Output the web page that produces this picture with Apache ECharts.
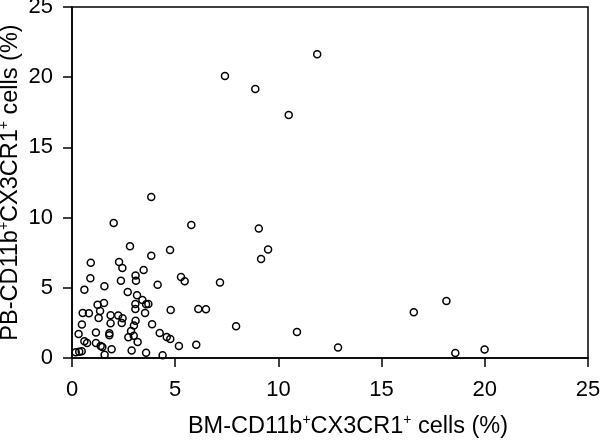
<!DOCTYPE html>
<html><head><meta charset="utf-8">
<script src="https://cdn.jsdelivr.net/npm/echarts@6/dist/echarts.min.js"></script>
<style>html,body{margin:0;padding:0;background:#fff}#c{width:600px;height:447px}</style>
</head><body><div id="c"></div>
<script>
// BM-CD11b+CX3CR1+ cells (%) — x values
const bmValues = [11.88,7.41,8.88,10.50,3.84,5.78,9.05,9.50,9.16,7.17,7.95,10.90,12.89,16.56,18.14,18.57,19.99,
  2.02,2.81,3.84,4.75,0.91,2.28,2.44,3.47,0.89,2.37,3.08,3.10,5.28,5.46,0.60,1.57,4.15,2.70,3.15,3.41,3.07,3.07,
  3.59,3.70,3.54,4.78,6.12,6.49,1.24,1.55,1.36,0.52,0.82,1.29,1.87,2.24,2.45,2.41,1.87,3.08,3.00,3.88,0.48,
  0.32,1.16,1.81,1.81,2.86,2.99,2.73,4.25,4.59,4.76,3.18,0.60,0.73,1.16,1.39,1.47,1.92,2.89,5.18,6.02,
  0.18,0.35,0.47,1.58,3.59,4.39];
// PB-CD11b+CX3CR1+ cells (%) — y values
const pbValues = [21.63,20.09,19.16,17.31,11.47,9.47,9.22,7.72,7.05,5.37,2.26,1.85,0.74,3.26,4.06,0.36,0.60,
  9.62,7.96,7.29,7.69,6.79,6.84,6.41,6.27,5.68,5.51,5.87,5.51,5.77,5.46,4.87,5.11,5.22,4.70,4.47,4.13,3.85,3.49,
  3.82,3.85,3.21,3.42,3.49,3.47,3.80,3.92,3.35,3.21,3.18,2.85,3.04,3.02,2.83,2.49,2.47,2.66,2.31,2.40,2.38,
  1.71,1.81,1.76,1.62,1.92,1.59,1.47,1.78,1.50,1.35,1.14,1.19,1.07,1.07,0.86,0.78,0.62,0.53,0.86,0.95,
  0.41,0.45,0.48,0.24,0.38,0.19];
const xTicks = [0,5,10,15,20,25];
const yTicks = [0,5,10,15,20,25];
const xTitleParts = ['BM-CD11b','+','CX3CR1','+',' cells (%)'];
const yTitleParts = ['PB-CD11b','+','CX3CR1','+',' cells (%)'];

const FONT = '"Liberation Sans", Arial, sans-serif';
function richTitle(parts){
  return parts.map((p,i)=> (i%2===1 ? '{s|'+p+'}' : '{t|'+p+'}')).join('');
}
const rich = {
  t:{fontSize:23.5,fontFamily:FONT,color:'#000',lineHeight:28},
  s:{fontSize:14,fontFamily:FONT,color:'#000',lineHeight:17,verticalAlign:'top'}
};
const data = bmValues.map((v,i)=>[v,pbValues[i]]);
const chart = echarts.init(document.getElementById('c'));
chart.setOption({
  animation:false,
  backgroundColor:'#fff',
  grid:{left:72,right:12,top:7,bottom:89,outerBoundsMode:'none',containLabel:false,show:true,borderColor:'#000',borderWidth:1.5,backgroundColor:'transparent'},
  xAxis:{
    type:'value',min:xTicks[0],max:xTicks[xTicks.length-1],interval:5,
    splitLine:{show:false},
    axisLine:{show:true,onZero:false,lineStyle:{color:'#000',width:1.5}},
    axisTick:{show:true,inside:false,length:9,lineStyle:{color:'#000',width:1.5}},
    axisLabel:{color:'#000',fontSize:22,fontFamily:FONT,margin:21},
    name:richTitle(xTitleParts),nameLocation:'middle',nameGap:55,nameMoveOverlap:false,
    nameTextStyle:{rich:rich,padding:[0,0,0,36]}
  },
  yAxis:{
    type:'value',min:yTicks[0],max:yTicks[yTicks.length-1],interval:5,
    splitLine:{show:false},
    axisLine:{show:true,onZero:false,lineStyle:{color:'#000',width:1.5}},
    axisTick:{show:true,inside:false,length:9,lineStyle:{color:'#000',width:1.5}},
    axisLabel:{color:'#000',fontSize:22,fontFamily:FONT,margin:19},
    name:richTitle(yTitleParts),nameLocation:'middle',nameGap:47,nameMoveOverlap:false,
    nameTextStyle:{rich:rich}
  },
  series:[{
    type:'scatter',data:data,symbol:'circle',symbolSize:7,
    itemStyle:{color:'rgba(0,0,0,0)',borderColor:'#000',borderWidth:1.5,opacity:1},
    emphasis:{disabled:true}
  }]
});
</script></body></html>
